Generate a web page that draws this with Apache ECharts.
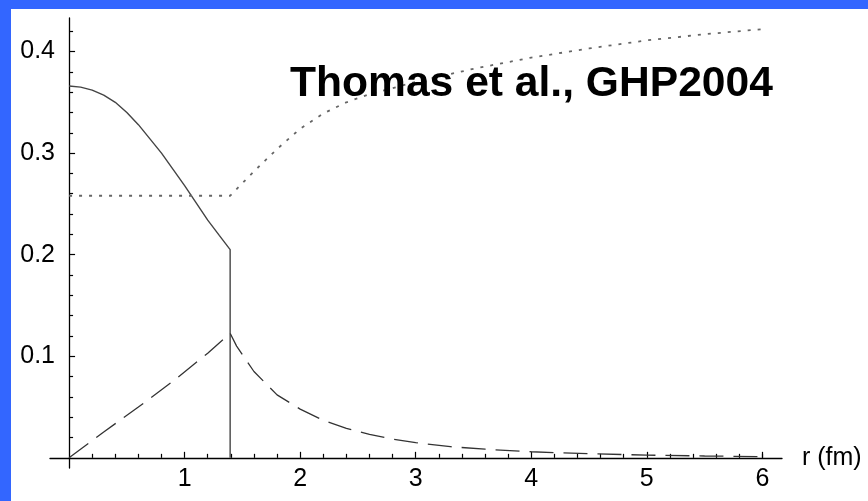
<!DOCTYPE html>
<html>
<head>
<meta charset="utf-8">
<script src="https://cdn.jsdelivr.net/npm/echarts@6/dist/echarts.min.js"></script>
<style>
  html, body { margin: 0; padding: 0; width: 868px; height: 501px; background: #3366ff; overflow: hidden; }
  #chart { position: absolute; left: 11px; top: 9px; width: 857px; height: 492px; background: #fff; }
</style>
</head>
<body>
<div id="chart"></div>
<script>
// solid curve (drops to zero at the bag edge)
var solidR   = [0, 0.1, 0.2, 0.3, 0.4, 0.5, 0.6, 0.7, 0.8, 0.9, 1.0, 1.1, 1.2, 1.3, 1.394, 1.394];
var solidVal = [0.366, 0.365, 0.362, 0.357, 0.350, 0.340, 0.328, 0.314, 0.300, 0.284, 0.268, 0.251, 0.234, 0.219, 0.205, 0];

// dotted curve
var dottedR   = [0, 1.394, 1.6, 1.8, 2.0, 2.2, 2.4, 2.6, 2.8, 3.0, 3.5, 4.0, 4.5, 5.0, 5.5, 6.0];
var dottedVal = [0.258, 0.258, 0.282, 0.304, 0.324, 0.339, 0.350, 0.358, 0.364, 0.370, 0.383, 0.394, 0.403, 0.411, 0.417, 0.422];

// dashed curve
var dashedR   = [0, 0.3, 0.6, 0.9, 1.2, 1.394, 1.45, 1.6, 1.8, 2.0, 2.2, 2.4, 2.6, 2.8, 3.0, 3.3, 3.6, 4.0, 4.5, 5.0, 5.5, 6.0];
var dashedVal = [0, 0.0255, 0.050, 0.0755, 0.103, 0.1226, 0.110, 0.085, 0.062, 0.048, 0.037, 0.029, 0.023, 0.0185, 0.015, 0.011, 0.0085, 0.006, 0.004, 0.0027, 0.0018, 0.0012];

// ticks
var xMajor = [1, 2, 3, 4, 5, 6];
var xMinor = [0.2, 0.4, 0.6, 0.8, 1.2, 1.4, 1.6, 1.8, 2.2, 2.4, 2.6, 2.8, 3.2, 3.4, 3.6, 3.8,
              4.2, 4.4, 4.6, 4.8, 5.2, 5.4, 5.6, 5.8, 6.0];
var yMajor = [0.1, 0.2, 0.3, 0.4];
var yMinor = [0.02, 0.04, 0.06, 0.08, 0.12, 0.14, 0.16, 0.18, 0.22, 0.24, 0.26, 0.28,
              0.32, 0.34, 0.36, 0.38, 0.42];

function pairs(xs, ys) {
    return xs.map(function (x, i) { return [x, ys[i]]; });
}

var font = '"Liberation Sans", Arial, sans-serif';
var xMin = -0.165, xMax = 6.17;
var yMin = -0.01, yMax = 0.433;

var chart = echarts.init(document.getElementById('chart'), null, { renderer: 'canvas' });
chart.setOption({
    animation: false,
    title: {
        text: 'Thomas et al., GHP2004',
        left: 279,
        top: 54,
        padding: 0,
        textStyle: { fontFamily: font, fontSize: 42.6, fontWeight: 'bold', color: '#000' }
    },
    grid: { left: 39, top: 9, width: 732, height: 450, containLabel: false, outerBoundsMode: 'none' },
    xAxis: [{
        type: 'value', min: xMin, max: xMax, position: 'bottom',
        axisLine: { onZero: true, lineStyle: { color: '#000', width: 1.3 } },
        axisTick: { customValues: xMajor, inside: true, length: 6, lineStyle: { color: '#000', width: 1.2 } },
        // labels sit at the grid edge, not at the zero line, so pull them up
        axisLabel: { customValues: xMajor, fontFamily: font, fontSize: 25, color: '#000', margin: -1 },
        splitLine: { show: false },
        name: 'r (fm)', nameLocation: 'end', nameGap: 20,
        nameTextStyle: { fontFamily: font, fontSize: 25, color: '#000', verticalAlign: 'middle' }
    }, {
        type: 'value', min: xMin, max: xMax, position: 'bottom',
        axisLine: { show: false, onZero: true },
        axisTick: { customValues: xMinor, inside: true, length: 4, lineStyle: { color: '#000', width: 1.2 } },
        axisLabel: { show: false },
        splitLine: { show: false }
    }],
    yAxis: [{
        type: 'value', min: yMin, max: yMax, position: 'left',
        axisLine: { onZero: true, lineStyle: { color: '#000', width: 1.3 } },
        axisTick: { customValues: yMajor, inside: true, length: 6, lineStyle: { color: '#000', width: 1.2 } },
        axisLabel: { customValues: yMajor, fontFamily: font, fontSize: 25, color: '#000', margin: -5,
                     formatter: function (v) { return v.toFixed(1); } },
        splitLine: { show: false }
    }, {
        type: 'value', min: yMin, max: yMax, position: 'left',
        axisLine: { show: false, onZero: true },
        axisTick: { customValues: yMinor, inside: true, length: 4, lineStyle: { color: '#000', width: 1.2 } },
        axisLabel: { show: false },
        splitLine: { show: false }
    }],
    series: [{
        type: 'line', xAxisIndex: 0, yAxisIndex: 0,
        data: pairs(solidR, solidVal),
        showSymbol: false,
        lineStyle: { color: '#444', width: 1.4 }
    }, {
        type: 'line', xAxisIndex: 0, yAxisIndex: 0,
        data: pairs(dottedR, dottedVal),
        showSymbol: false,
        lineStyle: { color: '#666', width: 1.8, type: [3, 7] }
    }, {
        type: 'line', xAxisIndex: 0, yAxisIndex: 0,
        data: pairs(dashedR, dashedVal),
        showSymbol: false,
        lineStyle: { color: '#333', width: 1.3, type: [24, 10] }
    }]
});
</script>
</body>
</html>
